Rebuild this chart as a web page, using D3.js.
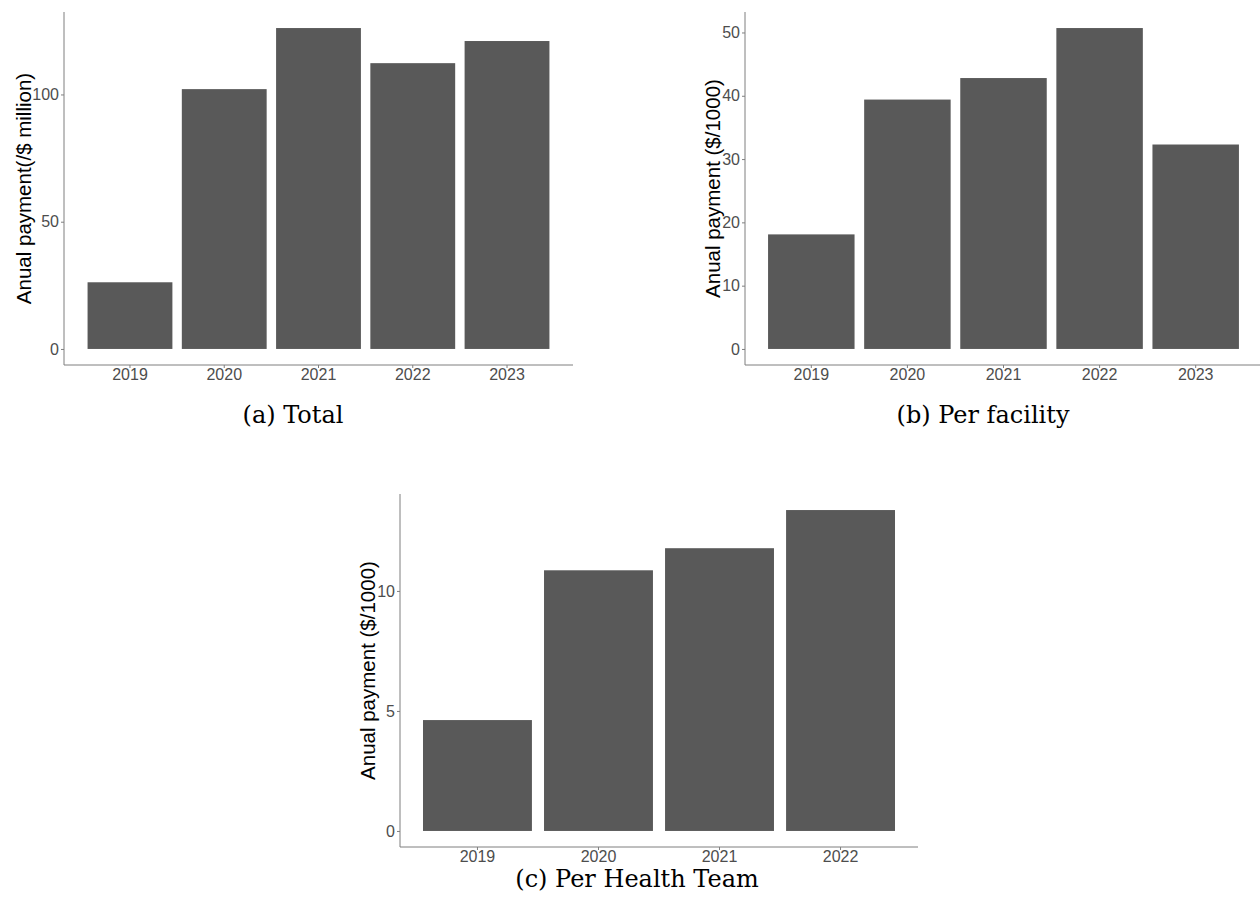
<!DOCTYPE html>
<html>
<head>
<meta charset="utf-8">
<script src="https://cdn.jsdelivr.net/npm/d3@7"></script>
<style>
  html, body { margin: 0; padding: 0; background: #fff; }
  svg { display: block; }
</style>
</head>
<body>
<svg id="chart" width="1260" height="911"></svg>
<script>
// ---- Data ----
const yearsA = ["2019", "2020", "2021", "2022", "2023"];
const totalPayment = [26.2, 102.1, 126.1, 112.3, 121.0];
const ticksA = [0, 50, 100];

const yearsB = ["2019", "2020", "2021", "2022", "2023"];
const perFacility = [18.1, 39.4, 42.8, 50.7, 32.3];
const ticksB = [0, 10, 20, 30, 40, 50];

const yearsC = ["2019", "2020", "2021", "2022"];
const perHealthTeam = [4.62, 10.86, 11.78, 13.37];
const ticksC = [0, 5, 10];

const titles = ["Anual payment(/$ million)", "Anual payment ($/1000)", "Anual payment ($/1000)"];
const captions = ["(a) Total", "(b) Per facility", "(c) Per Health Team"];

const svg = d3.select("#chart");

function panel(cfg) {
  const g = svg.append("g");
  const {x0, x1, yTop, yBot, cats, vals, ticks, title, titleX, caption, capX, capY, pOuter} = cfg;
  const x = d3.scaleBand().domain(cats).range([x0, x1]).paddingInner(0.1).paddingOuter(pOuter);
  const maxV = d3.max(vals);
  const y = d3.scaleLinear().domain([-0.05 * maxV, maxV * 1.05]).range([yBot, yTop]);

  g.selectAll("rect.bar").data(vals).enter().append("rect")
    .attr("class", "bar")
    .attr("x", (d, i) => x(cats[i]))
    .attr("width", x.bandwidth())
    .attr("y", d => y(d))
    .attr("height", d => y(0) - y(d))
    .attr("fill", "#595959");

  const yAxis = d3.axisLeft(y).tickValues(ticks).tickSize(3).tickPadding(2).tickFormat(d3.format("d"));
  const ya = g.append("g").attr("transform", `translate(${x0},0)`).call(yAxis);
  ya.select(".domain").attr("stroke", "#7f7f7f").attr("stroke-width", 1).attr("d", `M0,${yTop}V${yBot}`);
  ya.selectAll(".tick line").attr("stroke", "#7f7f7f");
  ya.selectAll(".tick text").attr("fill", "#4d4d4d").style("font-family", "Liberation Sans, Arial, sans-serif").style("font-size", "16px");

  const xAxis = d3.axisBottom(x).tickSize(3).tickPadding(1);
  const xa = g.append("g").attr("transform", `translate(0,${yBot})`).call(xAxis);
  xa.select(".domain").attr("stroke", "#7f7f7f").attr("stroke-width", 1).attr("d", `M${x0},0H${x1}`);
  xa.selectAll(".tick line").attr("stroke", "#7f7f7f");
  xa.selectAll(".tick text").attr("fill", "#4d4d4d").style("font-family", "Liberation Sans, Arial, sans-serif").style("font-size", "16px");

  g.append("text")
    .attr("transform", `translate(${titleX},${(yTop + yBot) / 2}) rotate(-90)`)
    .attr("text-anchor", "middle")
    .attr("dominant-baseline", "central")
    .style("font-family", "Liberation Sans, Arial, sans-serif")
    .style("font-size", "20.5px")
    .attr("fill", "#000")
    .text(title);

  g.append("text")
    .attr("x", capX).attr("y", capY)
    .attr("text-anchor", "middle")
    .style("font-family", "DejaVu Serif, Liberation Serif, serif")
    .style("font-size", "24px")
    .attr("fill", "#000")
    .text(caption);
}

panel({x0: 64, x1: 573, yTop: 12, yBot: 365, cats: yearsA, vals: totalPayment, ticks: ticksA,
       title: titles[0], titleX: 23, caption: captions[0], capX: 293, capY: 423, pOuter: 0.25});
panel({x0: 745, x1: 1262, yTop: 12, yBot: 365, cats: yearsB, vals: perFacility, ticks: ticksB,
       title: titles[1], titleX: 712, caption: captions[1], capX: 983, capY: 423, pOuter: 0.24});
panel({x0: 400, x1: 918, yTop: 494, yBot: 847, cats: yearsC, vals: perHealthTeam, ticks: ticksC,
       title: titles[2], titleX: 367, caption: captions[2], capX: 637, capY: 887, pOuter: 0.19});
</script>
</body>
</html>
